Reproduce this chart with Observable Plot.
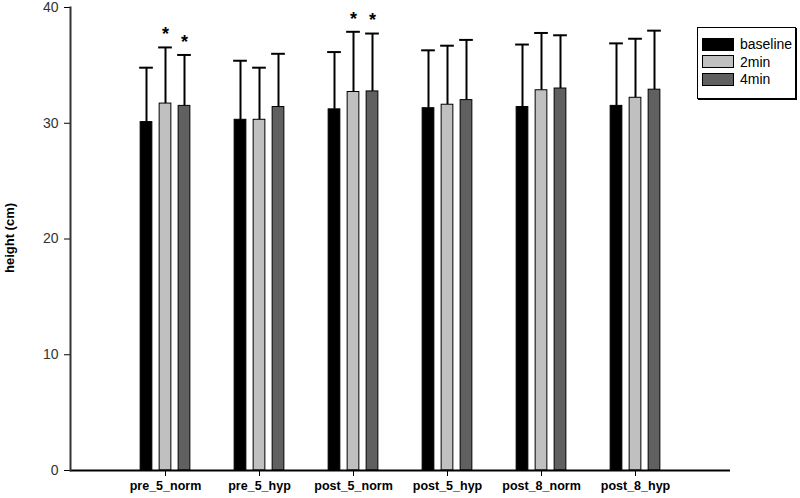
<!DOCTYPE html>
<html>
<head>
<meta charset="utf-8">
<script src="https://cdn.jsdelivr.net/npm/d3@7"></script>
<script src="https://cdn.jsdelivr.net/npm/@observablehq/plot@0.6"></script>
<style>
  html, body { margin: 0; padding: 0; background: #fff; }
  #wrap { position: relative; width: 800px; height: 498px; font-family: "Liberation Sans", Arial, sans-serif; }
  #chart svg { display: block; }
  g[aria-label="y-axis tick label"] text { font-size: 14px; fill: #333; }
  g[aria-label="x-axis tick label"] text { font-size: 12.5px; font-weight: bold; fill: #000; }
  #ylabel { position: absolute; left: 9px; top: 238px; transform: translate(-50%, -50%) rotate(-90deg);
            font-size: 13px; font-weight: bold; color: #000; white-space: nowrap; }
  #legend { position: absolute; left: 697px; top: 27px; width: 99px; height: 72px; border: 1px solid #000;
            box-shadow: 1px 1px 0 #000; background: #fff; box-sizing: border-box; }
  .item { position: absolute; left: 4px; height: 14px; display: flex; align-items: center; font-size: 14px; color: #000; }
  .sw { width: 32px; height: 13px; border: 1.5px solid #000; margin-right: 6px; box-sizing: border-box; }
</style>
</head>
<body>
<div id="wrap">
  <div id="chart"></div>
  <div id="ylabel"></div>
  <div id="legend"></div>
</div>
<script>
const categories = ["pre_5_norm", "pre_5_hyp", "post_5_norm", "post_5_hyp", "post_8_norm", "post_8_hyp"];
const seriesNames = ["baseline", "2min", "4min"];
const seriesColors = ["#000000", "#c0c0c0", "#606060"];
const baselineMean = [30.1, 30.3, 31.2, 31.3, 31.4, 31.5];
const min2Mean = [31.7, 30.3, 32.7, 31.6, 32.85, 32.2];
const min4Mean = [31.5, 31.4, 32.75, 32.0, 33.0, 32.9];
const baselineSD = [4.7, 5.1, 4.95, 5.0, 5.4, 5.4];
const min2SD = [4.85, 4.5, 5.2, 5.1, 4.95, 5.1];
const min4SD = [4.4, 4.6, 5.0, 5.2, 4.6, 5.1];
const min2Sig = [true, false, true, false, false, false];
const min4Sig = [true, false, true, false, false, false];
const yTicks = [0, 10, 20, 30, 40];
const yLabel = "height (cm)";

const means = [baselineMean, min2Mean, min4Mean];
const sds = [baselineSD, min2SD, min4SD];
const sigs = [categories.map(() => false), min2Sig, min4Sig];

// layout
const W = 800, H = 498, ML = 70, MR = 70, MT = 7, MB = 28;
const bandW = (W - ML - MR) / (categories.length + 1); // band width with paddingOuter 0.5, paddingInner 0
const barW = 12, barStep = 19, capW = 14;

const marks = [];
seriesNames.forEach((s, j) => {
  const rows = categories.map((c, i) => ({cat: c, series: s, mean: means[j][i], sd: sds[j][i], sig: sigs[j][i]}));
  const off = (j - 1) * barStep;
  marks.push(
    Plot.ruleX(rows, {x: "cat", y1: "mean", y2: d => d.mean + d.sd, dx: off, stroke: "#000", strokeWidth: 2}),
    Plot.tickY(rows, {x: "cat", y: d => d.mean + d.sd, stroke: "#000", strokeWidth: 2,
      insetLeft: bandW / 2 - capW / 2 + off, insetRight: bandW / 2 - capW / 2 - off}),
    Plot.barY(rows, {x: "cat", y: "mean", fill: seriesColors[j], stroke: "#000", strokeWidth: 1,
      insetLeft: bandW / 2 - barW / 2 + off, insetRight: bandW / 2 - barW / 2 - off}),
    Plot.text(rows.filter(d => d.sig), {x: "cat", y: d => d.mean + d.sd, text: () => "*", dx: off, dy: -13,
      fontSize: 18, fontWeight: "bold", fill: "#000"})
  );
});
marks.push(
  Plot.ruleY([0], {stroke: "#000", strokeWidth: 2}),
  Plot.frame({anchor: "left", stroke: "#333", strokeWidth: 2})
);

const chart = Plot.plot({
  width: W,
  height: H,
  marginTop: MT,
  marginBottom: MB,
  marginLeft: ML,
  marginRight: MR,
  style: {fontFamily: "'Liberation Sans', Arial, sans-serif", background: "#fff", color: "#000"},
  x: {domain: categories, paddingInner: 0, paddingOuter: 0.5, label: null, tickSize: 6, tickPadding: 5},
  y: {domain: [0, 40], ticks: yTicks, tickSize: 6, tickPadding: 6, label: null, grid: false},
  marks
});
document.getElementById("chart").appendChild(chart);
document.getElementById("ylabel").textContent = yLabel;

const legend = document.getElementById("legend");
seriesNames.forEach((s, j) => {
  const item = document.createElement("div");
  item.className = "item";
  item.style.top = (9 + j * 17.5) + "px";
  const sw = document.createElement("div");
  sw.className = "sw";
  sw.style.background = seriesColors[j];
  const label = document.createElement("span");
  label.textContent = s;
  item.appendChild(sw);
  item.appendChild(label);
  legend.appendChild(item);
});
</script>
</body>
</html>
